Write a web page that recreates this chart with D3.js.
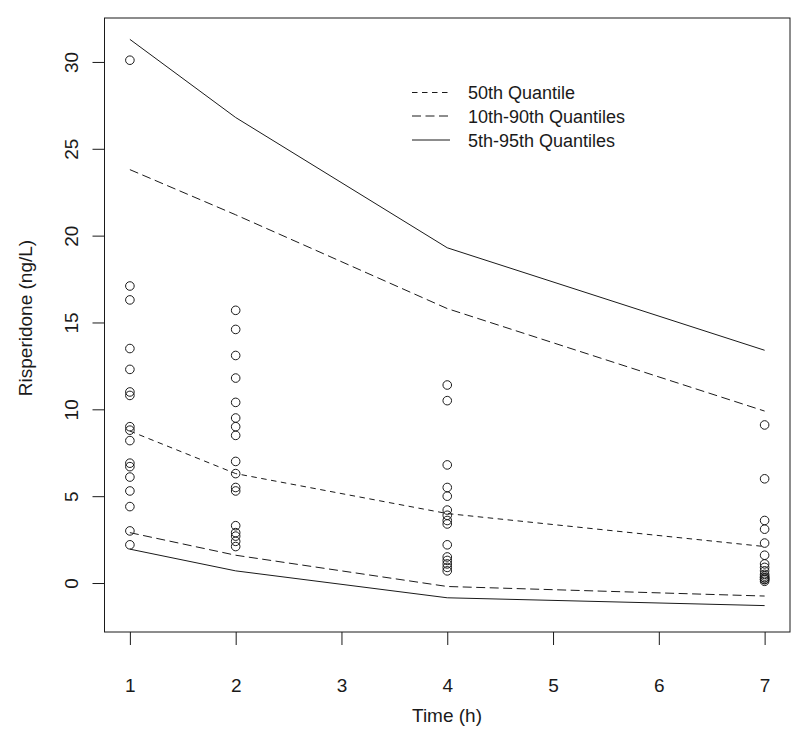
<!DOCTYPE html>
<html>
<head>
<meta charset="utf-8">
<script src="https://cdn.jsdelivr.net/npm/d3@7"></script>
<style>
  body { margin: 0; background: #fff; }
  svg { display: block; font-family: "Liberation Sans", Arial, sans-serif; }
</style>
</head>
<body>
<div id="chart"></div>
<script>
// ---- data ----
const times = [1, 2, 4, 7];
const obsT1 = [30.1, 17.1, 16.3, 13.5, 12.3, 11.0, 10.8, 9.0, 8.8, 8.2, 6.9, 6.7, 6.1, 5.3, 4.4, 3.0, 2.2];
const obsT2 = [15.7, 14.6, 13.1, 11.8, 10.4, 9.5, 9.0, 8.5, 7.0, 6.3, 5.5, 5.3, 3.3, 2.9, 2.7, 2.4, 2.1];
const obsT4 = [11.4, 10.5, 6.8, 5.5, 5.0, 4.2, 3.9, 3.6, 3.4, 2.2, 1.5, 1.3, 1.1, 0.9, 0.7];
const obsT7 = [9.1, 6.0, 3.6, 3.1, 2.3, 1.6, 1.1, 0.9, 0.7, 0.5, 0.4, 0.3, 0.3, 0.2, 0.2, 0.1];
const q50 = [8.75, 6.3, 4.0, 2.1];
const q10 = [2.9, 1.6, -0.2, -0.75];
const q90 = [23.8, 21.2, 15.8, 9.9];
const q05 = [1.95, 0.7, -0.85, -1.3];
const q95 = [31.3, 26.8, 19.3, 13.4];
const xTicks = [1, 2, 3, 4, 5, 6, 7];
const yTicks = [0, 5, 10, 15, 20, 25, 30];
const legendLabels = ["50th Quantile", "10th-90th Quantiles", "5th-95th Quantiles"];

// ---- layout ----
const W = 800, H = 738;
const svg = d3.select("#chart").append("svg").attr("width", W).attr("height", H);
const box = {left: 104.5, right: 790, top: 18, bottom: 632};

const x = d3.scaleLinear().domain([0.76, 7.24]).range([box.left, box.right]);
const y = d3.scaleLinear().domain([-2.82, 32.53]).range([box.bottom, box.top]);

const ink = "#1a1a1a";
const FS = 19;
const font = "'Liberation Sans', Arial, sans-serif";

// plot box
svg.append("rect")
  .attr("x", box.left).attr("y", box.top)
  .attr("width", box.right - box.left).attr("height", box.bottom - box.top)
  .attr("fill", "none").attr("stroke", ink).attr("stroke-width", 1);

// x axis
const xAxis = svg.append("g").attr("transform", `translate(0,${box.bottom})`)
  .call(d3.axisBottom(x).tickValues(xTicks).tickSize(13).tickPadding(47).tickFormat(d3.format("d")));
xAxis.select(".domain").attr("stroke", "none");
xAxis.selectAll(".tick line").attr("stroke", ink);
xAxis.selectAll(".tick text").attr("font-size", FS).attr("fill", ink)
  .attr("font-family", font).attr("dy", "0");

// y axis
const yAxis = svg.append("g").attr("transform", `translate(${box.left},0)`)
  .call(d3.axisLeft(y).tickValues(yTicks).tickSize(12).tickFormat(d3.format("d")));
yAxis.select(".domain").attr("stroke", "none");
yAxis.selectAll(".tick line").attr("stroke", ink);
yAxis.selectAll(".tick text").remove();
yAxis.selectAll(".tick").append("text")
  .attr("transform", `translate(${78 - box.left},0) rotate(-90)`)
  .attr("text-anchor", "middle")
  .attr("font-size", FS).attr("fill", ink)
  .attr("font-family", font)
  .text(d => d);

// axis titles
svg.append("text").attr("x", 447).attr("y", 722)
  .attr("text-anchor", "middle").attr("font-size", FS).attr("fill", ink)
  .text("Time (h)");
svg.append("text").attr("transform", `translate(32,318) rotate(-90)`)
  .attr("text-anchor", "middle").attr("font-size", FS).attr("fill", ink)
  .text("Risperidone (ng/L)");

// quantile lines
const line = d3.line().x((d, i) => x(times[i])).y(d => y(d));
const dashMed = "5.5,4.5", dashLong = "9,4.5";
const lines = [
  {v: q95, dash: null}, {v: q05, dash: null},
  {v: q90, dash: dashLong}, {v: q10, dash: dashLong},
  {v: q50, dash: dashMed}
];
lines.forEach(l => {
  svg.append("path").attr("d", line(l.v)).attr("fill", "none")
    .attr("stroke", ink).attr("stroke-width", 1)
    .attr("stroke-dasharray", l.dash);
});

// observations
const obs = [obsT1, obsT2, obsT4, obsT7];
obs.forEach((arr, i) => {
  svg.append("g").selectAll("circle").data(arr).join("circle")
    .attr("cx", x(times[i])).attr("cy", d => y(d)).attr("r", 4.3)
    .attr("fill", "none").attr("stroke", ink).attr("stroke-width", 1);
});

// legend
const legDash = [dashMed, dashLong, null];
const legY = [92.5, 116, 140];
legendLabels.forEach((lab, i) => {
  svg.append("line").attr("x1", 412).attr("x2", 450).attr("y1", legY[i]).attr("y2", legY[i])
    .attr("stroke", ink).attr("stroke-width", 1).attr("stroke-dasharray", legDash[i]);
  svg.append("text").attr("x", 468).attr("y", legY[i] + 6.5)
    .attr("font-size", 18).attr("fill", ink).text(lab);
});
</script>
</body>
</html>
